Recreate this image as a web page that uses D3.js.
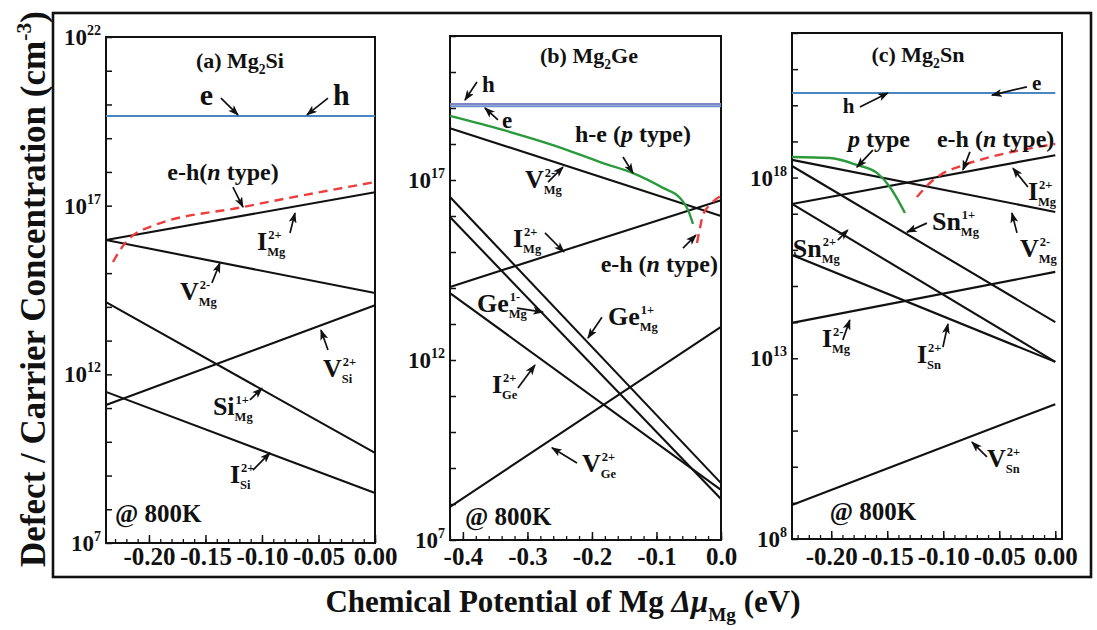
<!DOCTYPE html>
<html>
<head>
<meta charset="utf-8">
<script src="https://cdn.jsdelivr.net/npm/d3@7/dist/d3.min.js"></script>
<style>
  html, body { margin: 0; padding: 0; background: #fff; }
  svg text { font-family: "Liberation Serif", "Times New Roman", serif; font-weight: bold; fill: #111; }
</style>
</head>
<body>
<svg id="chart" width="1097" height="630"></svg>
<script>
// ---------------- data ----------------
// Δμ_Mg window (eV) of each compound
const muSi = [-0.238, 0.0];
const muGe = [-0.42, 0.0];
const muSn = [-0.235, 0.0];

// decade range of each concentration axis (log10 of cm^-3)
const decSi = [7, 22];
const decGe = [7, 21];
const decSn = [8, 22];

// tick labels
const xLabelsSi = [-0.20, -0.15, -0.10, -0.05, 0.00];
const xLabelsGe = [-0.4, -0.3, -0.2, -0.1, 0.0];
const xLabelsSn = [-0.20, -0.15, -0.10, -0.05, 0.00];
const yLabelsSi = [7, 12, 17, 22];
const yLabelsGe = [7, 12, 17];
const yLabelsSn = [8, 13, 18];

// straight defect / carrier lines: [species, log10 n at Δμ min, log10 n at Δμ = 0]
const linesSi = [
  ["carrier", 19.66, 19.66],
  ["IMg2+", 15.98, 17.40],
  ["VMg2-", 15.98, 14.41],
  ["SiMg1+", 14.14, 9.67],
  ["VSi2+", 11.09, 14.05],
  ["ISi2+", 11.48, 8.48]
];
const linesGe = [
  ["hole", 19.11, 19.11],
  ["electron", 19.05, 19.05],
  ["VMg2-", 18.44, 16.00],
  ["IMg2+", 14.03, 16.44],
  ["GeMg1+", 16.53, 8.58],
  ["GeMg1-", 15.97, 8.14],
  ["IGe2+", 13.86, 8.39],
  ["VGe2+", 7.92, 12.92]
];
const linesSn = [
  ["carrier", 20.34, 20.34],
  ["VMg2-", 18.49, 17.05],
  ["IMg2+", 17.27, 18.62],
  ["SnMg1+", 18.32, 14.00],
  ["SnMg2+", 17.27, 12.90],
  ["ISn2+", 15.86, 12.90],
  ["IMg2-", 13.98, 15.39],
  ["VSn2+", 8.94, 11.73]
];

// net carrier curves: [Δμ, log10 n]
const nTypeSi = [[-0.2318, 15.33], [-0.2238, 15.77], [-0.2168, 16.04], [-0.1991, 16.37], [-0.1168, 16.96], [0, 17.70]];
const pTypeGe = [[-0.42, 18.78], [-0.3379, 18.39], [-0.2604, 17.97], [-0.1829, 17.47], [-0.1364, 17.19], [-0.0899, 16.78], [-0.0635, 16.50], [-0.0512, 16.17], [-0.0434, 15.78]];
const nTypeGe = [[-0.0372, 15.25], [-0.0326, 15.67], [-0.0279, 16.03], [-0.0171, 16.31], [0, 16.56]];
const pTypeSn = [[-0.235, 18.57], [-0.2012, 18.54], [-0.1771, 18.35], [-0.1592, 18.13], [-0.1476, 17.74], [-0.1414, 17.43], [-0.1342, 17.02]];
const nTypeSn = [[-0.1235, 17.46], [-0.1119, 17.85], [-0.0985, 18.15], [-0.0869, 18.29], [0, 18.93]];

// defect labels: [symbol, charge, site, Δμ, log10 n]
const tagsSi = [["I", "2+", "Mg", -0.1044, 15.68], ["V", "2-", "Mg", -0.1726, 14.20], ["V", "2+", "Si", -0.046, 11.92], ["Si", "1+", "Mg", -0.1434, 10.79], ["I", "2+", "Si", -0.1283, 8.78]];
const tagsGe = [["V", "2-", "Mg", -0.3038, 16.78], ["I", "2+", "Mg", -0.3224, 15.14], ["Ge", "1-", "Mg", -0.3782, 13.33], ["Ge", "1+", "Mg", -0.1752, 12.97], ["I", "2+", "Ge", -0.355, 11.08], ["V", "2+", "Ge", -0.2155, 8.89]];
const tagsSn = [["I", "2+", "Mg", -0.0244, 17.38], ["V", "2-", "Mg", -0.0315, 15.80], ["Sn", "1+", "Mg", -0.1101, 16.55], ["Sn", "2+", "Mg", -0.2343, 15.80], ["I", "2-", "Mg", -0.2083, 13.31], ["I", "2+", "Sn", -0.1235, 12.87], ["V", "2+", "Sn", -0.061, 9.99]];

// other annotations: [text, Δμ, log10 n, anchor]
const notesSi = [["(a) Mg<sub>2</sub>Si", -0.1195, 21.08, "middle"], ["e", -0.155, 19.98, "start"], ["h", -0.0372, 19.98, "start"], ["e-h(<i>n</i> type)", -0.1345, 17.76, "middle"], ["@ 800K", -0.2301, 7.62, "start"]];
const notesGe = [["(b) Mg<sub>2</sub>Ge", -0.2046, 20.25, "middle"], ["h", -0.3705, 19.44, "start"], ["e", -0.3395, 18.44, "start"], ["h-e (<i>p</i> type)", -0.2263, 18.06, "start"], ["e-h (<i>n</i> type)", -0.0047, 14.44, "end"], ["@ 800K", -0.3968, 7.42, "start"]];
const notesSn = [["(c) Mg<sub>2</sub>Sn", -0.1226, 21.20, "middle"], ["e", -0.0208, 20.42, "start"], ["h", -0.1896, 19.79, "start"], ["<i>p</i> type", -0.1851, 18.85, "start"], ["e-h (<i>n</i> type)", -0.1056, 18.85, "start"], ["@ 800K", -0.2012, 8.52, "start"]];

// pointer arrows: [Δμ from, log10 n from, Δμ to, log10 n to]
const arrowsSi = [[-0.1363, 20.19, -0.1212, 19.69], [-0.0416, 20.19, -0.0602, 19.69], [-0.1257, 17.55, -0.1168, 16.96], [-0.0752, 16.19, -0.0708, 16.78], [-0.1443, 14.71, -0.1372, 15.30], [-0.0416, 12.72, -0.0478, 13.31], [-0.1106, 11.24, -0.1, 11.59], [-0.108, 9.16, -0.0929, 9.67]];
const arrowsGe = [[-0.3782, 19.72, -0.3968, 19.22], [-0.3457, 18.67, -0.3658, 19.0], [-0.1519, 17.64, -0.1364, 17.19], [-0.2682, 16.94, -0.2449, 17.36], [-0.2728, 15.53, -0.2434, 15.0], [-0.0589, 15.11, -0.0388, 15.47], [-0.3162, 13.44, -0.2759, 13.33], [-0.1845, 13.19, -0.2062, 12.61], [-0.3147, 11.22, -0.2883, 11.86], [-0.2232, 9.14, -0.262, 9.56]];
const arrowsSn = [[-0.0253, 20.51, -0.0565, 20.28], [-0.1744, 19.95, -0.1494, 20.34], [-0.1628, 18.76, -0.1771, 18.29], [-0.0762, 18.71, -0.0824, 18.21], [-0.0244, 17.74, -0.0378, 18.26], [-0.0342, 16.47, -0.0387, 17.02], [-0.1146, 16.74, -0.1324, 16.49], [-0.1941, 16.27, -0.1852, 16.55], [-0.1896, 13.51, -0.1834, 14.06], [-0.1003, 13.31, -0.0958, 13.95], [-0.061, 10.27, -0.0744, 10.68]];

// ---------------- drawing ----------------
const svg = d3.select("#chart");
const INK = "#111";

svg.append("defs").append("marker")
  .attr("id", "tip").attr("viewBox", "0 0 10 10").attr("refX", 9).attr("refY", 5)
  .attr("markerWidth", 11).attr("markerHeight", 8).attr("markerUnits", "userSpaceOnUse")
  .attr("preserveAspectRatio", "none").attr("orient", "auto")
  .append("path").attr("d", "M0,0 L10,5 L0,10 L2.5,5 z").attr("fill", INK);

// outer frame
svg.append("rect").attr("x", 53).attr("y", 13).attr("width", 1038).attr("height", 564)
  .attr("fill", "none").attr("stroke", INK).attr("stroke-width", 2.6);

// text with <i>, <sub>, <sup> runs
function rich(sel, str, size) {
  const parts = str.split(/(<\/?(?:i|sub|sup)>)/).filter(s => s.length);
  let italic = false, shift = 0, cur = 0;
  parts.forEach(p => {
    if (p === "<i>") italic = true;
    else if (p === "</i>") italic = false;
    else if (p === "<sub>") shift = 1;
    else if (p === "<sup>") shift = -1;
    else if (p === "</sub>" || p === "</sup>") shift = 0;
    else {
      const off = shift === 1 ? size * 0.28 : shift === -1 ? -size * 0.4 : 0;
      const ts = sel.append("tspan").text(p).attr("dy", off - cur);
      cur = off;
      if (shift) ts.attr("font-size", size * 0.62);
      if (italic) ts.attr("font-style", "italic");
    }
  });
}

const carrierColor = { carrier: "#4a86c2", hole: "#8284c8", electron: "#6a8fca" };

const panels = [
  { box: { l: 106, r: 375, t: 37, b: 543 }, xDomain: [muSi[0], muSi[1]], mu: muSi, dec: decSi,
    xLabels: xLabelsSi, digits: 2, minor: 0.01, yLabels: yLabelsSi, lines: linesSi,
    pType: null, nType: nTypeSi, tags: tagsSi, notes: notesSi, arrows: arrowsSi, ehSize: 30 },
  { box: { l: 450, r: 721, t: 36, b: 540 }, xDomain: [muGe[0], muGe[1]], mu: muGe, dec: decGe,
    xLabels: xLabelsGe, digits: 1, minor: 0.02, yLabels: yLabelsGe, lines: linesGe,
    pType: pTypeGe, nType: nTypeGe, tags: tagsGe, notes: notesGe, arrows: arrowsGe, ehSize: 23 },
  { box: { l: 792, r: 1062, t: 33, b: 539 }, xDomain: [muSn[0], 0.006], mu: muSn, dec: decSn,
    xLabels: xLabelsSn, digits: 2, minor: 0.01, yLabels: yLabelsSn, lines: linesSn,
    pType: pTypeSn, nType: nTypeSn, tags: tagsSn, notes: notesSn, arrows: arrowsSn, ehSize: 21 }
];

panels.forEach(P => {
  const { l, r, t, b } = P.box;
  const x = d3.scaleLinear().domain(P.xDomain).range([l, r]);
  const y = d3.scaleLog().domain([10 ** P.dec[0], 10 ** P.dec[1]]).range([b, t]);
  const g = svg.append("g");
  const Y = e => y(10 ** e);

  // x ticks (inside), minor then major
  const n0 = Math.ceil(P.xDomain[0] / P.minor - 1e-9), n1 = Math.floor(P.xDomain[1] / P.minor + 1e-9);
  const minorTicks = d3.range(n0, n1 + 1).map(i => +(i * P.minor).toFixed(3));
  g.append("g").attr("transform", `translate(0,${b})`)
    .call(d3.axisBottom(x).tickValues(minorTicks).tickSize(-4).tickFormat(""))
    .call(s => s.select(".domain").remove())
    .call(s => s.selectAll("line").attr("stroke", INK).attr("stroke-width", 1.3));
  const xa = g.append("g").attr("transform", `translate(0,${b})`)
    .call(d3.axisBottom(x).tickValues(P.xLabels).tickSize(-8).tickFormat(v => v.toFixed(P.digits)))
    .call(s => s.select(".domain").remove());
  xa.selectAll("line").attr("stroke", INK).attr("stroke-width", 1.5);
  xa.selectAll("text").attr("dy", null).attr("y", 565 - b)
    .attr("fill", INK)
    .style("font-size", "25px")
    .style("font-family", '"Liberation Serif", serif').style("font-weight", "bold");

  // y ticks every decade (inside)
  const decades = d3.range(P.dec[0], P.dec[1] + 1).map(e => 10 ** e);
  g.append("g").attr("transform", `translate(${l},0)`)
    .call(d3.axisLeft(y).tickValues(decades).tickSize(-6).tickFormat(""))
    .call(s => s.select(".domain").remove())
    .call(s => s.selectAll("line").attr("stroke", INK).attr("stroke-width", 1.5));
  P.yLabels.forEach(e => {
    const tx = g.append("text").attr("x", l - 5).attr("y", Y(e) + 8)
      .attr("text-anchor", "end").attr("font-size", 23);
    tx.append("tspan").text("10");
    tx.append("tspan").attr("dy", -10).attr("font-size", 14).text(e);
  });

  // plot frame
  g.append("rect").attr("x", l).attr("y", t).attr("width", r - l).attr("height", b - t)
    .attr("fill", "none").attr("stroke", INK).attr("stroke-width", 2);

  // defect lines (black) and carrier lines (blue)
  const seg = d => [[P.mu[0], d[1]], [P.mu[1], d[2]]];
  const line = d3.line().x(d => x(d[0])).y(d => Y(d[1]));
  const smooth = d3.line().x(d => x(d[0])).y(d => Y(d[1])).curve(d3.curveMonotoneX);
  P.lines.filter(d => !carrierColor[d[0]]).forEach(d => {
    g.append("path").attr("d", line(seg(d))).attr("fill", "none")
      .attr("stroke", INK).attr("stroke-width", 2.1);
  });
  P.lines.filter(d => carrierColor[d[0]]).forEach(d => {
    g.append("path").attr("d", line(seg(d))).attr("fill", "none")
      .attr("stroke", carrierColor[d[0]]).attr("stroke-width", 2);
  });
  if (P.pType) g.append("path").attr("d", smooth(P.pType)).attr("fill", "none")
    .attr("stroke", "#2a9a3c").attr("stroke-width", 2.4);
  if (P.nType) g.append("path").attr("d", smooth(P.nType)).attr("fill", "none")
    .attr("stroke", "#ee3d3d").attr("stroke-width", 2.4).attr("stroke-dasharray", "9,6");

  // pointer arrows
  P.arrows.forEach(a => {
    g.append("line").attr("x1", x(a[0])).attr("y1", Y(a[1])).attr("x2", x(a[2])).attr("y2", Y(a[3]))
      .attr("stroke", INK).attr("stroke-width", 1.7).attr("marker-end", "url(#tip)");
  });

  // defect labels with stacked charge / site
  P.tags.forEach(d => {
    const px = x(d[3]), py = Y(d[4]);
    const main = g.append("text").attr("x", px).attr("y", py).attr("font-size", 26).text(d[0]);
    const w = main.node().getComputedTextLength();
    g.append("text").attr("x", px + w + 1).attr("y", py - 11).attr("font-size", 12.5).text(d[1]);
    g.append("text").attr("x", px + w).attr("y", py + 6).attr("font-size", 12.5).text(d[2]);
  });

  // titles, carrier letters and type labels
  P.notes.forEach(d => {
    const plain = d[0].replace(/<[^>]+>/g, "");
    const size = plain.length === 1 ? P.ehSize : plain.startsWith("@") ? 25 : plain.startsWith("(") ? 22 : 24;
    const tx = g.append("text").attr("x", x(d[1])).attr("y", Y(d[2]))
      .attr("text-anchor", d[3]).attr("font-size", size);
    rich(tx, d[0], size);
  });
});

// axis titles
const xt = svg.append("text").attr("x", 563).attr("y", 612).attr("text-anchor", "middle").attr("font-size", 31);
rich(xt, "Chemical Potential of Mg <i>Δμ</i><sub>Mg</sub> (eV)", 31);
const yt = svg.append("text").attr("transform", "translate(45,289) rotate(-90)")
  .attr("text-anchor", "middle").attr("font-size", 35);
rich(yt, "Defect / Carrier Concentration (cm<sup>-3</sup>)", 35);
</script>
</body>
</html>
